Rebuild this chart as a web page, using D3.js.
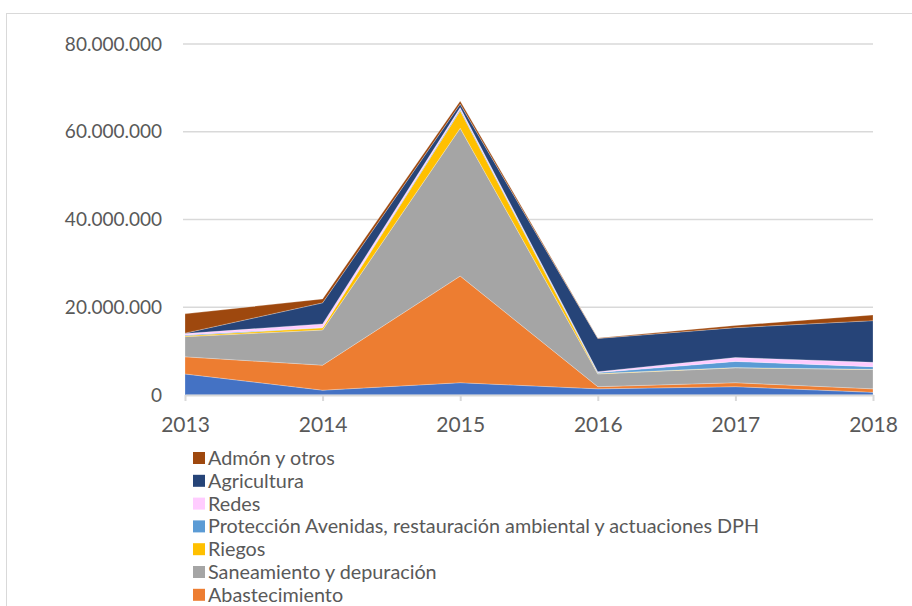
<!DOCTYPE html>
<html>
<head>
<meta charset="utf-8">
<script src="https://cdn.jsdelivr.net/npm/d3@7"></script>
<style>
  body { margin: 0; background: #fff; }
  text { font-family: Lato, "Open Sans", sans-serif; fill: #595959; }
</style>
</head>
<body>
<div id="chart"></div>
<script>
  // datos (euros)
  var years = [2013, 2014, 2015, 2016, 2017, 2018];
  var yTicks = [0, 20000000, 40000000, 60000000, 80000000];

  var regulacion     = [4.8, 1.1, 2.8, 1.4, 1.9, 0.6];
  var abastecimiento = [3.9, 5.7, 24.3, 0.5, 0.9, 0.8];
  var saneamiento    = [4.6, 8.0, 33.7, 2.9, 3.4, 4.4];
  var riegos         = [0.2, 0.5, 4.0, 0.1, 0.05, 0.05];
  var proteccion     = [0.2, 0.1, 0.3, 0.2, 1.4, 0.6];
  var redes          = [0.3, 0.8, 0.4, 0.2, 0.9, 1.0];
  var agricultura    = [0.1, 4.8, 0.8, 7.6, 6.8, 9.5];
  var admon          = [4.4, 0.9, 0.7, 0.1, 0.5, 1.3];

  // de abajo a arriba
  var series = [
    {name: "Regulación", values: regulacion, color: "#4472C4"},
    {name: "Abastecimiento", values: abastecimiento, color: "#ED7D31"},
    {name: "Saneamiento y depuración", values: saneamiento, color: "#A5A5A5"},
    {name: "Riegos", values: riegos, color: "#FFC000"},
    {name: "Protección Avenidas, restauración ambiental y actuaciones DPH", values: proteccion, color: "#5B9BD5"},
    {name: "Redes", values: redes, color: "#FFCCFF"},
    {name: "Agricultura", values: agricultura, color: "#264478"},
    {name: "Admón y otros", values: admon, color: "#9E480E"}
  ];

  var W = 912, H = 606;
  var svg = d3.select("#chart").append("svg")
      .attr("width", W).attr("height", H);

  // marco del grafico
  svg.append("rect")
      .attr("x", 6.5).attr("y", 13.5)
      .attr("width", W + 10).attr("height", H + 10)
      .attr("fill", "none").attr("stroke", "#d9d9d9");

  var x = d3.scaleLinear().domain([2013, 2018]).range([185, 873]);
  var y = d3.scaleLinear().domain([0, 80000000]).range([395, 44]);

  var loc = d3.formatLocale({decimal: ",", thousands: ".", grouping: [3], currency: ["", ""]});
  var fmt = loc.format(",");

  // lineas de cuadricula
  svg.append("g").selectAll("line")
    .data(yTicks.slice(1)).enter().append("line")
      .attr("x1", 183).attr("x2", 873)
      .attr("y1", function(d) { return y(d); })
      .attr("y2", function(d) { return y(d); })
      .attr("stroke", "#d9d9d9").attr("stroke-width", 1.5);

  svg.append("g").selectAll("text")
    .data(yTicks).enter().append("text")
      .attr("x", 162)
      .attr("y", function(d) { return y(d); })
      .attr("dy", "0.35em")
      .attr("text-anchor", "end")
      .style("font-size", "19px")
      .text(function(d) { return fmt(d); });

  // apilamos
  var table = years.map(function(yr, i) {
    var row = {year: yr};
    series.forEach(function(s) { row[s.name] = s.values[i] * 1e6; });
    return row;
  });
  var stack = d3.stack().keys(series.map(function(s) { return s.name; }));
  var layers = stack(table);

  var area = d3.area()
      .x(function(d) { return x(d.data.year); })
      .y0(function(d) { return y(d[0]); })
      .y1(function(d) { return y(d[1]); });

  svg.append("g").selectAll("path")
    .data(layers).enter().append("path")
      .attr("d", area)
      .attr("fill", function(d, i) { return series[i].color; })
      .attr("stroke", "#ffffff")
      .attr("stroke-opacity", 0.35)
      .attr("stroke-width", 0.7);

  // eje x
  var xAxis = svg.append("g")
      .attr("transform", "translate(0,395)")
      .call(d3.axisBottom(x).tickValues(years).tickFormat(d3.format("d")).tickSize(6).tickSizeOuter(0));
  xAxis.select(".domain").attr("stroke", "#d9d9d9").attr("stroke-width", 2);
  xAxis.selectAll(".tick line").attr("stroke", "#d9d9d9").attr("stroke-width", 2);
  xAxis.selectAll(".tick text")
      .attr("y", 22).attr("dy", "0.71em")
      .style("font-size", "21px").style("fill", "#595959")
      .style("font-family", "Lato, 'Open Sans', sans-serif");

  // leyenda (de arriba a abajo); la ultima entrada queda fuera del recorte
  var legendItems = series.slice().reverse().filter(function(d, i) { return 458 + i * 22.8 < H; });
  var legend = svg.append("g").selectAll("g")
    .data(legendItems).enter().append("g")
      .attr("transform", function(d, i) { return "translate(193," + (458 + i * 22.8) + ")"; });
  legend.append("rect")
      .attr("x", 0).attr("y", -6).attr("width", 12).attr("height", 12)
      .attr("fill", function(d) { return d.color; });
  legend.append("text")
      .attr("x", 15).attr("dy", "0.35em")
      .style("font-size", "19.8px")
      .text(function(d) { return d.name; });
</script>
</body>
</html>
